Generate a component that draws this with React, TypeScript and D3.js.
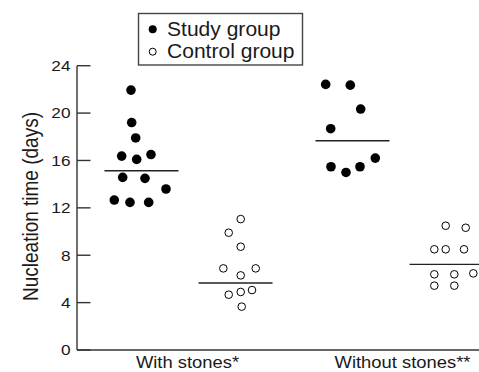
import React from "react";
import * as d3 from "d3";

const categories = ["With stones*", "Without stones**"];
const groups = ["Study group", "Control group"];
const yTicks = [0, 4, 8, 12, 16, 20, 24];

// values (days)
const studyWith = [21.94, 19.2, 17.9, 16.37, 16.09, 16.5, 14.57, 14.49, 13.59, 12.66, 12.46, 12.46];
const controlWith = [11.05, 9.9, 8.72, 6.89, 6.89, 6.3, 4.67, 4.9, 5.06, 3.66];
const studyWithout = [22.42, 22.36, 20.34, 18.68, 15.47, 14.99, 15.47, 16.2];
const controlWithout = [10.49, 10.32, 8.5, 8.5, 8.5, 6.39, 5.43, 6.39, 5.43, 6.47];
// group means (days)
const means = [15.13, 5.65, 17.67, 7.23];
// horizontal spread of each dot inside its column (dot-plot jitter, in px)
const studyWithJitter = [-10.5, -9.8, -5.8, -19.8, -4.8, 9.5, -18.8, 3.5, 24.5, -27.2, -11.5, 7.2];
const controlWithJitter = [5.2, -6.8, 5.2, -12.2, 20.2, 5.2, -6.8, 5.2, 16.5, 6.2];
const studyWithoutJitter = [-26.8, -2.2, 8.2, -21.8, -21.5, -6.5, 7.5, 22.8];
const controlWithoutJitter = [-0.8, 19.2, -12.2, -0.8, 17.5, -12.2, -12.2, 7.8, 7.8, 26.8];

const W = 479;
const H = 372;

export default function App() {
  const y = d3.scaleLinear().domain([0, 24]).range([350, 65.7]);
  const xCat = d3.scaleBand<string>().domain(categories).range([83, 505]).padding(0);
  const xGrp = d3
    .scaleBand<string>()
    .domain(groups)
    .range([0, xCat.bandwidth()])
    .paddingInner(0)
    .paddingOuter(0.122);
  const center = (c: string, g: string) => (xCat(c) as number) + (xGrp(g) as number) + xGrp.bandwidth() / 2;

  const sets = [
    { cat: categories[0], grp: groups[0], vals: studyWith, jit: studyWithJitter, mean: means[0] },
    { cat: categories[0], grp: groups[1], vals: controlWith, jit: controlWithJitter, mean: means[1] },
    { cat: categories[1], grp: groups[0], vals: studyWithout, jit: studyWithoutJitter, mean: means[2] },
    { cat: categories[1], grp: groups[1], vals: controlWithout, jit: controlWithoutJitter, mean: means[3] },
  ];

  const axisX = 77;
  const sx = 1.15;
  const font = "'Liberation Sans', Arial, Helvetica, sans-serif";
  const ink = "#1a1a1a";

  return (
    <svg width={W} height={H} style={{ position: "absolute", left: 0, top: 0, background: "#fff" }} fontFamily={font}>
      {/* y axis */}
      <line x1={axisX} x2={axisX} y1={y(24)} y2={y(0)} stroke="#333" strokeWidth={1.4} />
      <line x1={axisX} x2={W} y1={y(0)} y2={y(0)} stroke="#333" strokeWidth={1.4} />
      {yTicks.map((t) => (
        <g key={t}>
          <line x1={axisX} x2={axisX + 13.5} y1={y(t)} y2={y(t)} stroke="#333" strokeWidth={1.4} />
          <text
            transform={`translate(${axisX - 6.5},${y(t) + 5.3}) scale(${sx},1)`}
            textAnchor="end"
            fontSize={15}
            fill={ink}
          >
            {t}
          </text>
        </g>
      ))}
      <text
        transform={`translate(37.5,206.5) scale(${sx},1) rotate(-90)`}
        textAnchor="middle"
        fontSize={19}
        fill={ink}
      >
        Nucleation time (days)
      </text>

      {/* x category labels */}
      {categories.map((c) => (
        <text
          key={c}
          transform={`translate(${(xCat(c) as number) + xCat.bandwidth() / 2 + (c === categories[1] ? 3 : -1)},368) scale(${sx},1)`}
          textAnchor="middle"
          fontSize={16}
          fill={ink}
        >
          {c}
        </text>
      ))}

      {/* dots and means */}
      {sets.map((s, i) => {
        const cx = center(s.cat, s.grp);
        const filled = s.grp === groups[0];
        return (
          <g key={i}>
            <line x1={cx - 37} x2={cx + 37} y1={y(s.mean)} y2={y(s.mean)} stroke="#222" strokeWidth={1.4} />
            {s.vals.map((v, j) => (
              <circle
                key={j}
                cx={cx + s.jit[j]}
                cy={y(v)}
                r={filled ? 4.8 : 3.8}
                fill={filled ? "#000" : "#fff"}
                stroke="#000"
                strokeWidth={filled ? 0 : 1}
              />
            ))}
          </g>
        );
      })}

      {/* legend */}
      <rect x={138.5} y={13.5} width={164} height={51.5} fill="#fff" stroke="#444" strokeWidth={1.4} />
      <circle cx={152.7} cy={29.3} r={4} fill="#000" />
      <circle cx={152.7} cy={51.7} r={3.5} fill="#fff" stroke="#000" strokeWidth={1} />
      <text transform={`translate(167,36) scale(1.08,1)`} fontSize={19.5} fill={ink}>
        {groups[0]}
      </text>
      <text transform={`translate(167,57.5) scale(1.08,1)`} fontSize={19.5} fill={ink}>
        {groups[1]}
      </text>
    </svg>
  );
}
